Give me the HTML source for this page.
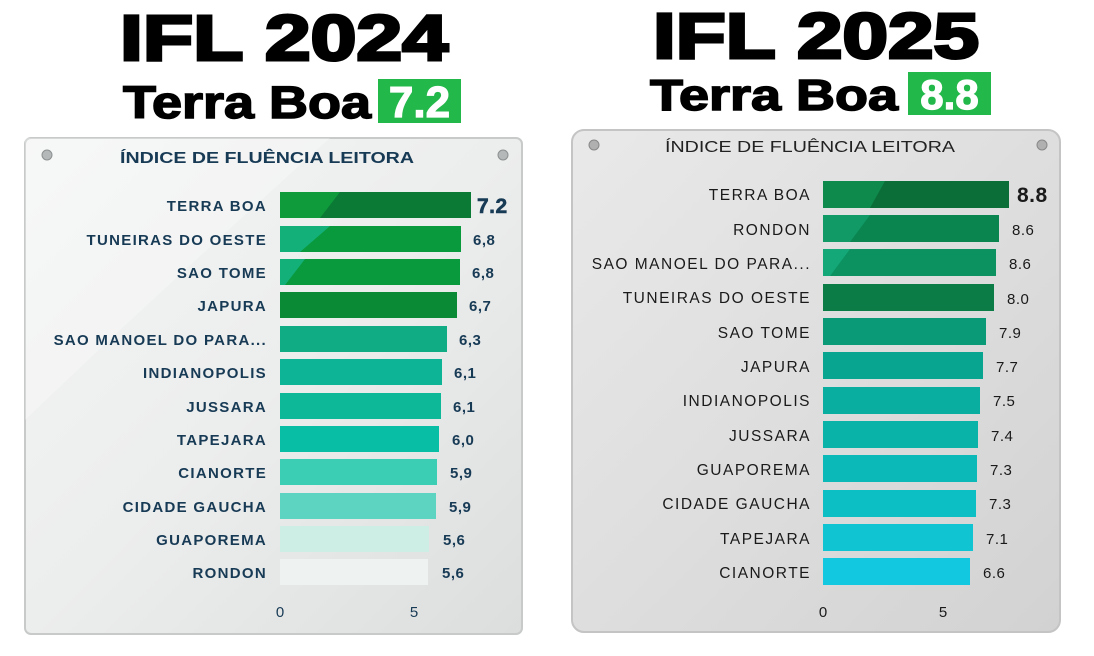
<!DOCTYPE html>
<html><head><meta charset="utf-8"><style>
html,body{margin:0;padding:0;background:#fff;}
svg{display:block;}
</style></head><body>
<svg width="1094" height="656" viewBox="0 0 1094 656" xmlns="http://www.w3.org/2000/svg" font-family="Liberation Sans, sans-serif">
<defs>
<linearGradient id="pg1" x1="0" y1="0" x2="1" y2="1">
<stop offset="0" stop-color="#f4f5f5"/><stop offset="0.5" stop-color="#eceded"/><stop offset="1" stop-color="#dcdede"/>
</linearGradient>
<linearGradient id="pg2" x1="0" y1="0" x2="1" y2="1">
<stop offset="0" stop-color="#e9e9e9"/><stop offset="0.5" stop-color="#dedede"/><stop offset="1" stop-color="#d2d2d2"/>
</linearGradient>
</defs>

<text x="120" y="60" font-size="64" font-weight="bold" fill="#000" stroke="#000" stroke-width="3" textLength="328" lengthAdjust="spacingAndGlyphs">IFL 2024</text>
<text x="123" y="118" font-size="45" font-weight="bold" fill="#000" stroke="#000" stroke-width="1.5" textLength="248" lengthAdjust="spacingAndGlyphs">Terra Boa</text>
<rect x="378" y="79" width="83" height="44" fill="#22b84a"/>
<text x="419.5" y="117" font-size="44" font-weight="bold" fill="#fff" stroke="#fff" stroke-width="1.2" text-anchor="middle">7.2</text>

<text x="653" y="58" font-size="64" font-weight="bold" fill="#000" stroke="#000" stroke-width="3" textLength="326" lengthAdjust="spacingAndGlyphs">IFL 2025</text>
<text x="650" y="110" font-size="44" font-weight="bold" fill="#000" stroke="#000" stroke-width="1.5" textLength="248" lengthAdjust="spacingAndGlyphs">Terra Boa</text>
<rect x="908" y="72" width="83" height="43" fill="#22b84a"/>
<text x="949.5" y="109" font-size="42" font-weight="bold" fill="#fff" stroke="#fff" stroke-width="1.2" text-anchor="middle">8.8</text>

<rect x="25" y="138" width="497" height="496" rx="6" fill="url(#pg1)" stroke="#c8caca" stroke-width="2"/>
<path d="M25 420 Q150 300 330 138 L25 138 Z" fill="#fff" opacity="0.25"/>
<circle cx="47" cy="155" r="5" fill="#b5b8b8" stroke="#8c9090"/>
<circle cx="503" cy="155" r="5" fill="#b5b8b8" stroke="#8c9090"/>
<text x="267" y="163" font-size="16" font-weight="bold" fill="#173a55" text-anchor="middle" textLength="294" lengthAdjust="spacingAndGlyphs">ÍNDICE DE FLUÊNCIA LEITORA</text>
<g font-size="15" font-weight="bold" fill="#173a55" text-anchor="end" letter-spacing="1.3">
<text x="267" y="211">TERRA BOA</text>
<text x="267" y="245">TUNEIRAS DO OESTE</text>
<text x="267" y="278">SAO TOME</text>
<text x="267" y="311">JAPURA</text>
<text x="267" y="345">SAO MANOEL DO PARA...</text>
<text x="267" y="378">INDIANOPOLIS</text>
<text x="267" y="412">JUSSARA</text>
<text x="267" y="445">TAPEJARA</text>
<text x="267" y="478">CIANORTE</text>
<text x="267" y="512">CIDADE GAUCHA</text>
<text x="267" y="545">GUAPOREMA</text>
<text x="267" y="578">RONDON</text>
</g>
<rect x="280" y="192" width="191" height="26" fill="#0f9a3c"/>
<path d="M340 192 L471 192 L471 218 L320 218 Z" fill="#0a7a34"/>
<rect x="280" y="226" width="181" height="26" fill="#0a9a3e"/>
<path d="M280 226 L330 226 L300 252 L280 252 Z" fill="#14b07a"/>
<rect x="280" y="259" width="180" height="26" fill="#0a9a3e"/>
<path d="M280 259 L305 259 L285 285 L280 285 Z" fill="#14b07a"/>
<rect x="280" y="292" width="177" height="26" fill="#0a8a35"/>
<rect x="280" y="326" width="167" height="26" fill="#10ad84"/>
<rect x="280" y="359" width="162" height="26" fill="#0db596"/>
<rect x="280" y="393" width="161" height="26" fill="#0cb898"/>
<rect x="280" y="426" width="159" height="26" fill="#08bfa6"/>
<rect x="280" y="459" width="157" height="26" fill="#3ccdb5"/>
<rect x="280" y="493" width="156" height="26" fill="#5dd3c2"/>
<rect x="280" y="526" width="149" height="26" fill="#cdeee5"/>
<rect x="280" y="559" width="148" height="26" fill="#eef2f0"/>
<g font-size="15" font-weight="bold" fill="#173a55" letter-spacing="0.5">
<text x="477" y="213" font-size="21" stroke="#173a55" stroke-width="0.6">7.2</text>
<text x="473" y="245">6,8</text>
<text x="472" y="278">6,8</text>
<text x="469" y="311">6,7</text>
<text x="459" y="345">6,3</text>
<text x="454" y="378">6,1</text>
<text x="453" y="412">6,1</text>
<text x="452" y="445">6,0</text>
<text x="450" y="478">5,9</text>
<text x="449" y="512">5,9</text>
<text x="443" y="545">5,6</text>
<text x="442" y="578">5,6</text>
</g>
<g font-size="15" fill="#173a55" text-anchor="middle">
<text x="280" y="617">0</text><text x="414" y="617">5</text>
</g>

<rect x="572" y="130" width="488" height="502" rx="12" fill="url(#pg2)" stroke="#c4c4c4" stroke-width="2"/>
<circle cx="594" cy="145" r="5" fill="#b0b0b0" stroke="#888"/>
<circle cx="1042" cy="145" r="5" fill="#b0b0b0" stroke="#888"/>
<text x="810" y="152" font-size="16" fill="#222" text-anchor="middle" textLength="290" lengthAdjust="spacingAndGlyphs">ÍNDICE DE FLUÊNCIA LEITORA</text>
<g font-size="15.5" fill="#1a1a1a" text-anchor="end" letter-spacing="1.5">
<text x="811" y="200">TERRA BOA</text>
<text x="811" y="235">RONDON</text>
<text x="811" y="269">SAO MANOEL DO PARA...</text>
<text x="811" y="303">TUNEIRAS DO OESTE</text>
<text x="811" y="338">SAO TOME</text>
<text x="811" y="372">JAPURA</text>
<text x="811" y="406">INDIANOPOLIS</text>
<text x="811" y="441">JUSSARA</text>
<text x="811" y="475">GUAPOREMA</text>
<text x="811" y="509">CIDADE GAUCHA</text>
<text x="811" y="544">TAPEJARA</text>
<text x="811" y="578">CIANORTE</text>
</g>
<rect x="823" y="181" width="186" height="27" fill="#0e8a4c"/>
<path d="M885 181 L1009 181 L1009 208 L870 208 Z" fill="#0b6e38"/>
<rect x="823" y="215" width="176" height="27" fill="#0a8550"/>
<path d="M823 215 L870 215 L850 242 L823 242 Z" fill="#119a66"/>
<rect x="823" y="249" width="173" height="27" fill="#0c9260"/>
<path d="M823 249 L850 249 L830 276 L823 276 Z" fill="#14a878"/>
<rect x="823" y="284" width="171" height="27" fill="#0b7c45"/>
<rect x="823" y="318" width="163" height="27" fill="#0a9a78"/>
<rect x="823" y="352" width="160" height="27" fill="#08a591"/>
<rect x="823" y="387" width="157" height="27" fill="#0aaea0"/>
<rect x="823" y="421" width="155" height="27" fill="#0ab3a8"/>
<rect x="823" y="455" width="154" height="27" fill="#0bbab8"/>
<rect x="823" y="490" width="153" height="27" fill="#0cbfc4"/>
<rect x="823" y="524" width="150" height="27" fill="#10c4d2"/>
<rect x="823" y="558" width="147" height="27" fill="#12c8e0"/>
<g font-size="15" fill="#1a1a1a" letter-spacing="0.5">
<text x="1017" y="202" font-size="21" font-weight="bold">8.8</text>
<text x="1012" y="235">8.6</text>
<text x="1009" y="269">8.6</text>
<text x="1007" y="304">8.0</text>
<text x="999" y="338">7.9</text>
<text x="996" y="372">7.7</text>
<text x="993" y="406">7.5</text>
<text x="991" y="441">7.4</text>
<text x="990" y="475">7.3</text>
<text x="989" y="509">7.3</text>
<text x="986" y="544">7.1</text>
<text x="983" y="578">6.6</text>
</g>
<g font-size="15" fill="#1a1a1a" text-anchor="middle">
<text x="823" y="617">0</text><text x="943" y="617">5</text>
</g>
</svg>
</body></html>
